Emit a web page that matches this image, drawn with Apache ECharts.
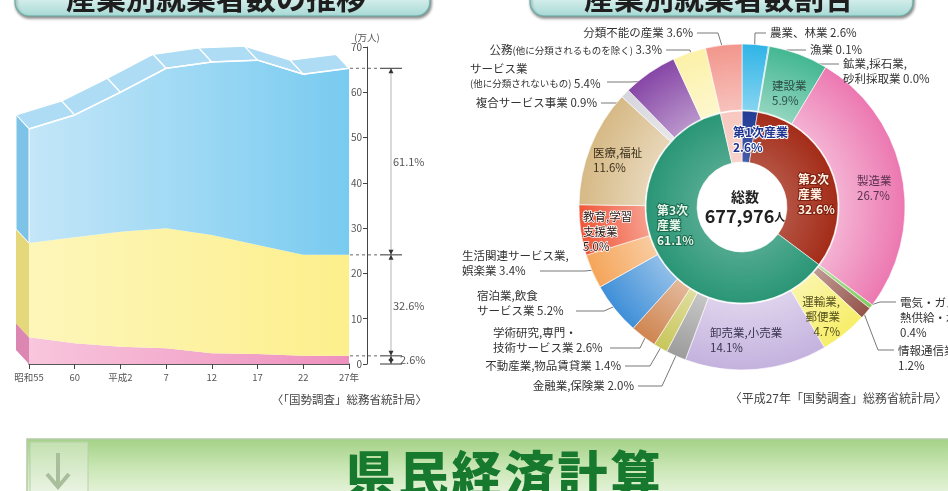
<!DOCTYPE html>
<html>
<head>
    <meta charset="utf-8">
    <title>産業別就業者数</title>
    <script src="https://cdn.jsdelivr.net/npm/echarts@6/dist/echarts.min.js"></script>
    <style>
        html, body { margin: 0; padding: 0; background: #fff; }
        #main { width: 948px; height: 491px; }
    </style>
</head>
<body>
<div id="main"></div>
<script type="text/javascript">
    // ---- 産業別就業者数の推移 (万人) ----
    var years = ['昭和55', '60', '平成2', '7', '12', '17', '22', '27年'];
    var primary = [5.9, 4.6, 3.8, 3.5, 2.4, 2.2, 1.8, 1.8];
    var secondary = [20.8, 23.4, 25.4, 26.5, 26.1, 24.1, 22.3, 22.3];
    var tertiary = [25.2, 27.0, 30.8, 35.3, 38.2, 40.8, 39.9, 41.2];
    var seriesNames = ['第1次産業', '第2次産業', '第3次産業'];

    // ---- 産業別就業者数割合 (平成27年, %) ----
    var innerNames = ['第1次産業', '第2次産業', '第3次産業', '分類不能'];
    var innerValues = [2.6, 32.6, 61.1, 3.6];
    var outerNames = [
        '農業、林業', '漁業', '鉱業,採石業,砂利採取業', '建設業', '製造業',
        '電気・ガス・熱供給・水道業', '情報通信業', '運輸業,郵便業', '卸売業,小売業', '金融業,保険業',
        '不動産業,物品賃貸業', '学術研究,専門・技術サービス業', '宿泊業,飲食サービス業', '生活関連サービス業,娯楽業', '教育,学習支援業',
        '医療,福祉', '複合サービス事業', 'サービス業(他に分類されないもの)', '公務(他に分類されるものを除く)', '分類不能の産業'
    ];
    var outerValues = [2.6, 0.1, 0.0, 5.9, 26.7, 0.4, 1.2, 4.7, 14.1, 2.0, 1.4, 2.6, 5.2, 3.4, 5.0, 11.6, 0.9, 5.4, 3.3, 3.6];
    var totalWorkers = 677976;

    // ラベル表示用の文字列 (改行位置つき)
    var innerLabelText = ['第1次産業\n', '第2次\n産業\n', '第3次\n産業\n', ''];
    var outerLabelText = [
        '農業、林業 ', '漁業 ', '鉱業,採石業,\n砂利採取業 ', '建設業\n', '製造業\n',
        '電気・ガス・\n熱供給・水道業\n', '情報通信業\n', '運輸業,\n郵便業\n', '卸売業,小売業\n', '金融業,保険業 ',
        '不動産業,物品賃貸業 ', '学術研究,専門・\n技術サービス業 ', '宿泊業,飲食\nサービス業 ', '生活関連サービス業,\n娯楽業 ', '教育,学習\n支援業\n',
        '医療,福祉\n', '複合サービス事業 ', 'サービス業\n{s|(他に分類されないもの)} ', '公務{s|(他に分類されるものを除く)} ', '分類不能の産業 '
    ];

    // ---- レイアウト・色 ----
    var FONT = '"Noto Sans CJK JP", "Noto Sans", sans-serif';
    var PIE_C = [742, 207];
    var R_IN = [45, 96];
    var R_OUT = [97, 163];
    var DX = -13, DY = -14;   // 立体の奥行き

    var innerColors = ['#1f3b95', '#a32c18', '#2a9676', '#f7c8bf'];
    var outerColors = ['#2fb4e6', '#1d6fb8', '#888888', '#43b791', '#ec78b1',
        '#7ccc5c', '#935349', '#f7ee6a', '#c4b2de', '#9c9c9c',
        '#c8c65a', '#cf8550', '#3f8fd8', '#f5a55a', '#ef5638',
        '#d6b985', '#d5d5dc', '#8646a6', '#fbf1a8', '#f2968c'];

    var innerLabelPos = [
        {x: 733, y: 140, color: '#1f3590', border: '#ffffff'},
        {x: 798, y: 194, color: '#fff1e4', border: '#7d1d0d'},
        {x: 657, y: 225, color: '#e6f6ea', border: '#1a6a50'},
        null
    ];
    // ax/ay: 引出線の端, ex: 折れ点x
    var outerLabelPos = [
        {x: 770, y: 33, align: 'left', ax: 766, ay: 33, ex: 755},
        {x: 810, y: 50, align: 'left', ax: 806, ay: 50, ex: 787, inset: 20},
        {x: 843, y: 71, align: 'left', ax: 839, ay: 64, ex: 800, inset: 20},
        {x: 772, y: 93, align: 'left', color: '#2d4f45'},
        {x: 857, y: 188, align: 'left', color: '#5a3050'},
        {x: 900, y: 318, align: 'left', ax: 896, ay: 302, ex: 880, inset: 2},
        {x: 898, y: 358, align: 'left', ax: 894, ay: 350, ex: 878, inset: 4},
        {x: 840, y: 317, align: 'right', color: '#55501e'},
        {x: 710, y: 340, align: 'left', color: '#3a3350'},
        {x: 634, y: 386, align: 'right', ax: 638, ay: 386, ex: 662},
        {x: 621, y: 366, align: 'right', ax: 625, ay: 366, ex: 650},
        {x: 493, y: 340, align: 'left', ax: 610, ay: 348, ex: 640},
        {x: 477, y: 303, align: 'left', ax: 576, ay: 311, ex: 604},
        {x: 462, y: 263, align: 'left', ax: 540, ay: 271, ex: 585, inset: 4},
        {x: 583, y: 232, align: 'left', color: '#2a1510', border: '#ffffff'},
        {x: 593, y: 160, align: 'left', color: '#3e321e'},
        {x: 597, y: 103, align: 'right', ax: 601, ay: 103, ex: 626},
        {x: 470, y: 76, align: 'left', ax: 607, ay: 82, ex: 630},
        {x: 662, y: 50, align: 'right', ax: 666, ay: 50, ex: 690},
        {x: 693, y: 33, align: 'right', ax: 697, ay: 33, ex: 718}
    ];

    var totals = years.map(function (y, i) { return primary[i] + secondary[i] + tertiary[i]; });

    function mixWhite(hex, amt) {
        var n = parseInt(hex.slice(1), 16);
        var r = (n >> 16) & 255, g = (n >> 8) & 255, b = n & 255;
        r = Math.round(r + (255 - r) * amt);
        g = Math.round(g + (255 - g) * amt);
        b = Math.round(b + (255 - b) * amt);
        return 'rgb(' + r + ',' + g + ',' + b + ')';
    }

    function ringGrad(base, radii, amt) {
        return {
            type: 'radial', x: PIE_C[0], y: PIE_C[1], r: radii[1], global: true,
            colorStops: [
                {offset: radii[0] / radii[1], color: mixWhite(base, amt)},
                {offset: 1, color: base}
            ]
        };
    }

    function hGrad(c1, c2) {
        return new echarts.graphic.LinearGradient(0, 0, 1, 0, [
            {offset: 0, color: c1}, {offset: 1, color: c2}
        ]);
    }

    // 立体の上面と側面
    var sideColors = ['#dc86b2', '#e4d77c', '#7dc2e7'];
    function render3d(params, api) {
        var i = params.dataIndex;
        var children = [];
        if (i < years.length - 1) {
            var a = api.coord([i, totals[i]]);
            var b = api.coord([i + 1, totals[i + 1]]);
            children.push({
                type: 'polygon',
                shape: {points: [a, b, [b[0] + DX, b[1] + DY], [a[0] + DX, a[1] + DY]]},
                style: {fill: '#aedcf4', stroke: '#ffffff', lineWidth: 1.3}
            });
        }
        if (i === 0) {
            var levels = [0, primary[0], primary[0] + secondary[0], totals[0]];
            for (var k = 0; k < 3; k++) {
                var p = api.coord([0, levels[k]]);
                var q = api.coord([0, levels[k + 1]]);
                children.push({
                    type: 'polygon',
                    shape: {points: [p, q, [q[0] + DX, q[1] + DY], [p[0] + DX, p[1] + DY]]},
                    style: {fill: sideColors[k], stroke: k === 2 ? '#ffffff' : null, lineWidth: 1}
                });
            }
        }
        return {type: 'group', children: children};
    }

    function txt(text, x, y, font, fill, align) {
        return {
            type: 'text',
            style: {
                text: text, x: x, y: y, font: font, fill: fill,
                textAlign: align, align: align,
                textVerticalAlign: 'middle', verticalAlign: 'middle'
            }
        };
    }

    // 27年の構成比ブラケット
    var lastPct = [innerValues[0], innerValues[1], innerValues[2]];
    function renderBracket(params, api) {
        var i = api.value(0);
        var base = api.coord([i, 0]);
        var xr = base[0], y0 = base[1];
        var y1 = api.coord([i, primary[i]])[1];
        var y2 = api.coord([i, primary[i] + secondary[i]])[1];
        var y3 = api.coord([i, totals[i]])[1];
        var bx = xr + 42;
        var ch = [];
        [y3, y2, y1].forEach(function (y) {
            ch.push({type: 'line', shape: {x1: xr + 1, y1: y, x2: bx - 12, y2: y},
                style: {stroke: '#666', lineWidth: 1, lineDash: [3, 3]}});
        });
        ch.push({type: 'line', shape: {x1: bx, y1: y3, x2: bx, y2: y0},
            style: {stroke: '#b5b5b5', lineWidth: 1}});
        [y3, y2, y1, y0].forEach(function (y, k) {
            ch.push({type: 'line', shape: {x1: bx - 11, y1: y, x2: bx + 11, y2: y},
                style: {stroke: '#333', lineWidth: 1}});
            if (k < 3) {
                ch.push({type: 'polygon', shape: {points: [[bx, y], [bx - 2.5, y + 5], [bx + 2.5, y + 5]]},
                    style: {fill: '#333'}});
            }
            if (k > 0) {
                ch.push({type: 'polygon', shape: {points: [[bx, y], [bx - 2.5, y - 5], [bx + 2.5, y - 5]]},
                    style: {fill: '#333'}});
            }
        });
        var f = '11px ' + FONT;
        ch.push(txt(lastPct[2].toFixed(1) + '%', bx + 2, (y3 + y2) / 2, f, '#555', 'left'));
        ch.push(txt(lastPct[1].toFixed(1) + '%', bx + 2, (y2 + y1) / 2, f, '#555', 'left'));
        ch.push(txt(lastPct[0].toFixed(1) + '%', bx + 9, (y1 + y0) / 2, f, '#555', 'left'));
        return {type: 'group', children: ch};
    }

    function innerLabelLayout(p) {
        var L = innerLabelPos[p.dataIndex];
        if (!L) return {};
        return {x: L.x, y: L.y, align: 'left', verticalAlign: 'middle'};
    }

    function outerLabelLayout(p) {
        var L = outerLabelPos[p.dataIndex];
        var res = {x: L.x, y: L.y, align: L.align, verticalAlign: 'middle'};
        if (L.ax != null && p.labelLinePoints) {
            var a = p.labelLinePoints[0];
            var dx = a[0] - PIE_C[0], dy = a[1] - PIE_C[1];
            var d = Math.sqrt(dx * dx + dy * dy) || 1;
            var k = (d - (L.inset != null ? L.inset : 10)) / d;
            res.labelLinePoints = [[PIE_C[0] + dx * k, PIE_C[1] + dy * k], [L.ex, L.ay], [L.ax, L.ay]];
        }
        return res;
    }

    var innerData = innerNames.map(function (n, i) {
        var L = innerLabelPos[i];
        return {
            name: n, value: innerValues[i],
            itemStyle: {color: ringGrad(innerColors[i], R_IN, 0.18)},
            label: L ? {color: L.color, textBorderColor: L.border, textBorderWidth: 2} : {show: false}
        };
    });

    var outerData = outerNames.map(function (n, i) {
        var L = outerLabelPos[i];
        var inside = L.ax == null;
        return {
            name: n, value: outerValues[i],
            itemStyle: {color: ringGrad(outerColors[i], R_OUT, 0.42)},
            label: inside
                ? {position: 'inside', color: L.color, textBorderColor: L.border || 'transparent', textBorderWidth: L.border ? 1.5 : 0}
                : {position: 'outside'},
            labelLine: {show: !inside}
        };
    });

    var myChart = echarts.init(document.getElementById('main'), null, {renderer: 'canvas'});

    myChart.setOption({
        animation: false,
        backgroundColor: '#ffffff',
        textStyle: {fontFamily: FONT},
        grid: {left: 29, right: 599, top: 47, bottom: 127, outerBoundsMode: 'none', containLabel: false},
        xAxis: {
            type: 'category',
            data: years,
            boundaryGap: false,
            axisLine: {lineStyle: {color: '#222', width: 1.5}},
            axisTick: {show: true, length: 5, lineStyle: {color: '#444'}},
            axisLabel: {fontSize: 9.5, color: '#555', margin: 9, fontFamily: FONT, interval: 0},
            splitLine: {show: false}
        },
        yAxis: {
            type: 'value',
            min: 0, max: 70, interval: 10,
            position: 'right',
            offset: 18,
            name: '(万人)',
            nameGap: 5,
            nameTextStyle: {fontSize: 9.5, color: '#555', align: 'center', fontFamily: FONT},
            axisLine: {show: true, lineStyle: {color: '#444', width: 1}},
            axisTick: {show: true, inside: true, length: 4, lineStyle: {color: '#444'}},
            axisLabel: {inside: true, margin: 5, fontSize: 10, color: '#555', fontFamily: FONT},
            splitLine: {show: false}
        },
        series: [
            {
                name: seriesNames[0], type: 'line', stack: 'a', data: primary,
                symbol: 'none', silent: true, lineStyle: {width: 0},
                areaStyle: {color: hGrad('#f8c6dd', '#ee90bd'), opacity: 1}
            },
            {
                name: seriesNames[1], type: 'line', stack: 'a', data: secondary,
                symbol: 'none', silent: true, lineStyle: {width: 0},
                areaStyle: {color: hGrad('#fdf6ba', '#fdef8c'), opacity: 1}
            },
            {
                name: seriesNames[2], type: 'line', stack: 'a', data: tertiary,
                symbol: 'none', silent: true, lineStyle: {width: 1.5, color: '#ffffff'},
                areaStyle: {color: hGrad('#c4e6f8', '#78cbf0'), opacity: 1}
            },
            {
                type: 'custom', renderItem: render3d, silent: true, z: 3,
                data: years.map(function (y, i) { return [i, totals[i]]; })
            },
            {
                type: 'custom', renderItem: renderBracket, silent: true, z: 3,
                data: [[years.length - 1, totals[years.length - 1]]]
            },
            {
                type: 'pie', center: PIE_C, radius: R_IN, startAngle: 90, clockwise: true,
                silent: true, avoidLabelOverlap: false,
                itemStyle: {borderColor: '#ffffff', borderWidth: 0.6},
                label: {
                    show: true, position: 'inside', fontSize: 12, lineHeight: 15, fontWeight: 'bold', fontFamily: FONT,
                    formatter: function (p) { return innerLabelText[p.dataIndex] + p.value.toFixed(1) + '%'; }
                },
                labelLine: {show: false},
                labelLayout: innerLabelLayout,
                emphasis: {disabled: true},
                data: innerData
            },
            {
                type: 'pie', center: PIE_C, radius: R_OUT, startAngle: 90, clockwise: true,
                silent: true, avoidLabelOverlap: false,
                itemStyle: {borderColor: '#ffffff', borderWidth: 0.6},
                label: {
                    show: true, fontSize: 11.5, lineHeight: 15, color: '#333', fontFamily: FONT,
                    formatter: function (p) { return outerLabelText[p.dataIndex] + p.value.toFixed(1) + '%'; },
                    rich: {s: {fontSize: 9.5, color: '#333', fontFamily: FONT}}
                },
                labelLine: {show: true, length: 10, length2: 10, lineStyle: {color: '#555', width: 0.8}},
                labelLayout: outerLabelLayout,
                emphasis: {disabled: true},
                data: outerData
            }
        ],
        graphic: [
            // 見出しバー
            {
                type: 'rect', shape: {x: 15, y: -30, width: 415, height: 46, r: 14}, z: 0,
                style: {
                    fill: new echarts.graphic.LinearGradient(0, 0, 0, 1, [
                        {offset: 0, color: '#ffffff'}, {offset: 0.55, color: '#def2f0'}, {offset: 1, color: '#a6d9d4'}
                    ]),
                    stroke: '#6aaea7', lineWidth: 1.2,
                    shadowColor: 'rgba(0,0,0,0.45)', shadowBlur: 3, shadowOffsetY: 2, shadowOffsetX: 1
                }
            },
            txt('産業別就業者数の推移', 216, -2, 'bold 30px ' + FONT, '#1e1e1e', 'center'),
            {
                type: 'rect', shape: {x: 530, y: -30, width: 383, height: 46, r: 14}, z: 0,
                style: {
                    fill: new echarts.graphic.LinearGradient(0, 0, 0, 1, [
                        {offset: 0, color: '#ffffff'}, {offset: 0.55, color: '#def2f0'}, {offset: 1, color: '#a6d9d4'}
                    ]),
                    stroke: '#6aaea7', lineWidth: 1.2,
                    shadowColor: 'rgba(0,0,0,0.45)', shadowBlur: 3, shadowOffsetY: 2, shadowOffsetX: 1
                }
            },
            txt('産業別就業者数割合', 719, -2, 'bold 30px ' + FONT, '#1e1e1e', 'center'),

            // 左グラフの系列名
            txt(seriesNames[2], 31, 188, '13px ' + FONT, '#333', 'left'),
            txt(seriesNames[1], 31, 290, '13px ' + FONT, '#333', 'left'),
            txt(seriesNames[0], 31, 353, '13px ' + FONT, '#333', 'left'),

            // 出典
            txt('〈「国勢調査」総務省統計局〉', 427, 400, '11.5px ' + FONT, '#444', 'right'),
            txt('〈平成27年「国勢調査」総務省統計局〉', 947, 398, '12px ' + FONT, '#444', 'right'),

            // 総数
            {
                type: 'text', z: 10,
                style: {
                    text: '{a|総数}\n{b|' + totalWorkers.toLocaleString('en-US') + '}{c|人}',
                    x: 745, y: 207, textAlign: 'center', align: 'center',
                    textVerticalAlign: 'middle', verticalAlign: 'middle',
                    rich: {
                        a: {font: 'bold 14px ' + FONT, fill: '#222', color: '#222', lineHeight: 19, align: 'center'},
                        b: {font: 'bold 18px ' + FONT, fill: '#222', color: '#222', lineHeight: 20},
                        c: {font: 'bold 11px ' + FONT, fill: '#222', color: '#222', lineHeight: 20}
                    }
                }
            },

            // 下部バナー
            {
                type: 'rect', shape: {x: 27, y: 439, width: 940, height: 60},
                style: {
                    fill: new echarts.graphic.LinearGradient(0, 0, 0, 1, [
                        {offset: 0, color: '#a3d186'}, {offset: 0.5, color: '#cbe7b6'}, {offset: 1, color: '#ecf6e3'}
                    ]),
                    stroke: '#b3cca6', lineWidth: 1.5
                }
            },
            {
                type: 'rect', shape: {x: 30, y: 442, width: 58, height: 55},
                style: {
                    fill: new echarts.graphic.LinearGradient(0, 0, 0, 1, [
                        {offset: 0, color: '#c4e0b0'}, {offset: 1, color: '#eef6e8'}
                    ]),
                    stroke: '#b8d0aa', lineWidth: 1
                }
            },
            {
                type: 'polyline', shape: {points: [[58, 453], [58, 487]]},
                style: {stroke: '#a9bf9b', lineWidth: 4}
            },
            {
                type: 'polyline', shape: {points: [[47, 474], [58, 487], [69, 474]]},
                style: {stroke: '#a9bf9b', lineWidth: 4, fill: null}
            }
        ].concat('県民経済計算'.split('').map(function (ch, k) {
            return txt(ch, 503 + (k - 2.5) * 53, 474, '900 50px ' + FONT, '#17792e', 'center');
        }))
    });
</script>
</body>
</html>
